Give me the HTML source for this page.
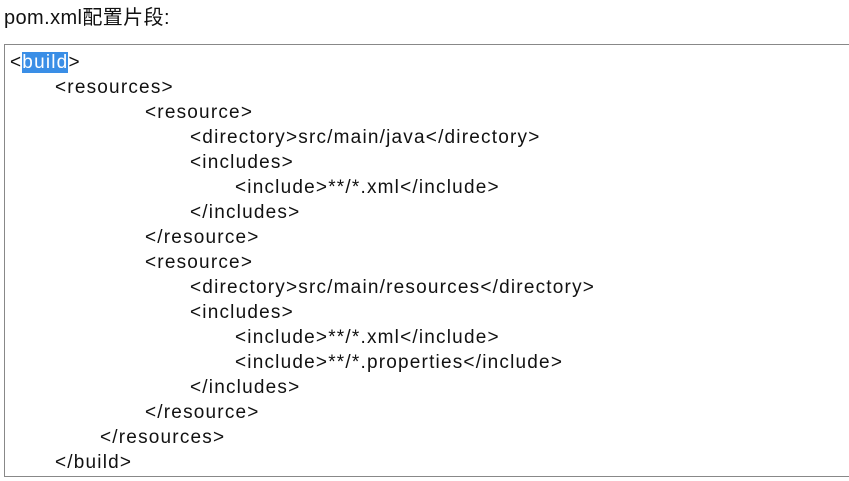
<!DOCTYPE html>
<html><head><meta charset="utf-8"><style>
body{margin:0;width:849px;height:481px;background:#fff;overflow:hidden;font-family:"Liberation Sans","Noto Sans CJK SC",sans-serif;color:#111;position:relative}
.t{position:absolute;left:4px;top:1px;font-size:20px;letter-spacing:0.4px}
.box{position:absolute;left:4px;top:44px;width:850px;height:433px;border:1px solid #888;border-right:none;box-sizing:border-box}
.l{position:absolute;font-size:19px;line-height:22px;white-space:pre;letter-spacing:1.2px}
.sel{background:#3a8ee6;color:#fff}
</style></head><body>
<div class="t">pom.xml配置片段:</div>
<div class="box"></div>
<div class="l" style="left:10px;top:52px">&lt;<span class="sel">build</span>&gt;</div>
<div class="l" style="left:55px;top:77px">&lt;resources&gt;</div>
<div class="l" style="left:145px;top:102px">&lt;resource&gt;</div>
<div class="l" style="left:190px;top:127px">&lt;directory&gt;src/main/java&lt;/directory&gt;</div>
<div class="l" style="left:190px;top:152px">&lt;includes&gt;</div>
<div class="l" style="left:235px;top:177px">&lt;include&gt;**/*.xml&lt;/include&gt;</div>
<div class="l" style="left:190px;top:202px">&lt;/includes&gt;</div>
<div class="l" style="left:145px;top:227px">&lt;/resource&gt;</div>
<div class="l" style="left:145px;top:252px">&lt;resource&gt;</div>
<div class="l" style="left:190px;top:277px">&lt;directory&gt;src/main/resources&lt;/directory&gt;</div>
<div class="l" style="left:190px;top:302px">&lt;includes&gt;</div>
<div class="l" style="left:235px;top:327px">&lt;include&gt;**/*.xml&lt;/include&gt;</div>
<div class="l" style="left:235px;top:352px">&lt;include&gt;**/*.properties&lt;/include&gt;</div>
<div class="l" style="left:190px;top:377px">&lt;/includes&gt;</div>
<div class="l" style="left:145px;top:402px">&lt;/resource&gt;</div>
<div class="l" style="left:100px;top:427px">&lt;/resources&gt;</div>
<div class="l" style="left:55px;top:452px">&lt;/build&gt;</div>
</body></html>
